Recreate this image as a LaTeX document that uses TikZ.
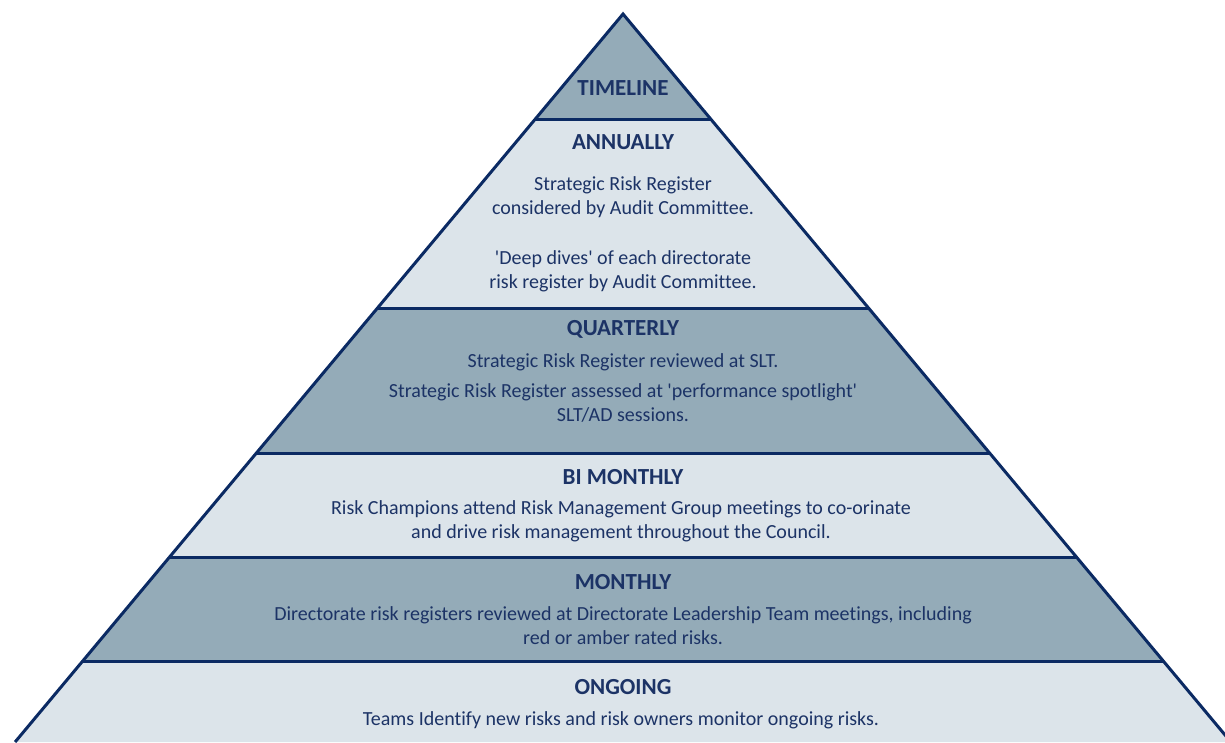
\documentclass[tikz,border=0pt]{standalone}
\usepackage{fontspec}
\setmainfont{Carlito}[Ligatures=NoCommon]
% straight apostrophe, set as a glyph so no text mapping curls it
\newcommand{\sq}{\XeTeXglyph\the\XeTeXcharglyph"0027\relax}
\begin{document}
\definecolor{edgenavy}{HTML}{0B2A63}
\definecolor{textnavy}{HTML}{1C3366}
\definecolor{bandlight}{HTML}{DCE4EA}
\definecolor{banddark}{HTML}{94ABB8}
\begin{tikzpicture}[x=1pt,y=-1pt,
  bandline/.style={draw=edgenavy,line width=3pt,line join=miter},
  title/.style={font=\fontsize{23}{25}\selectfont\bfseries,text=textnavy,inner sep=0pt,anchor=center},
  body/.style={font=\fontsize{20}{24}\selectfont,text=textnavy,inner sep=0pt,align=center,anchor=center}]
  \useasboundingbox (0,0) rectangle (1225,742);
  \begin{scope}
    \clip (0,0) rectangle (1225,742);
    % bands, top to bottom
    \fill[banddark]  (623,14) -- (710.7,119) -- (535.3,119) -- cycle;
    \fill[bandlight] (535.3,119) -- (710.7,119) -- (868.5,308) -- (377.5,308) -- cycle;
    \fill[banddark]  (377.5,308) -- (868.5,308) -- (989.6,453) -- (256.4,453) -- cycle;
    \fill[bandlight] (256.4,453) -- (989.6,453) -- (1076.4,557) -- (169.6,557) -- cycle;
    \fill[banddark]  (169.6,557) -- (1076.4,557) -- (1163.2,661) -- (82.8,661) -- cycle;
    \fill[bandlight] (82.8,661) -- (1163.2,661) -- (1230.9,742) -- (15.1,742) -- cycle;
    % outline and dividers
    \draw[bandline] (15.1,742) -- (623,14) -- (1230.9,742);
    \draw[bandline] (535.3,119) -- (710.7,119);
    \draw[bandline] (377.5,308) -- (868.5,308);
    \draw[bandline] (256.4,453) -- (989.6,453);
    \draw[bandline] (169.6,557) -- (1076.4,557);
    \draw[bandline] (82.8,661) -- (1163.2,661);
  \end{scope}
  % labels
  \node[title] (tTimeline) at (623,88) {TIMELINE};
  \node[title] (tAnnual) at (623,142) {ANNUALLY};
  \node[body] (bAnnualA) at (623,197) {Strategic Risk Register\\considered by Audit Committee.};
  \node[body] (bAnnualB) at (623,271) {\sq Deep dives\sq{} of each directorate\\risk register by Audit Committee.};
  \node[title] (tQuarter) at (623,329) {QUARTERLY};
  \node[body] (bQuarterA) at (623,362) {Strategic Risk Register reviewed at SLT.};
  \node[body] (bQuarterB) at (623,402.5) {Strategic Risk Register assessed at \sq performance spotlight\sq\\SLT/AD sessions.};
  \node[title] (tBiMonth) at (623,477) {BI MONTHLY};
  \node[body] (bBiMonth) at (621,521) {Risk Champions attend Risk Management Group meetings to co-orinate\\and drive risk management throughout the Council.};
  \node[title] (tMonth) at (623,582) {MONTHLY};
  \node[body] (bMonth) at (623,626) {Directorate risk registers reviewed at Directorate Leadership Team meetings, including\\red or amber rated risks.};
  \node[title] (tOngoing) at (623,687) {ONGOING};
  \node[body] (bOngoing) at (621,720) {Teams Identify new risks and risk owners monitor ongoing risks.};
\end{tikzpicture}
\end{document}
